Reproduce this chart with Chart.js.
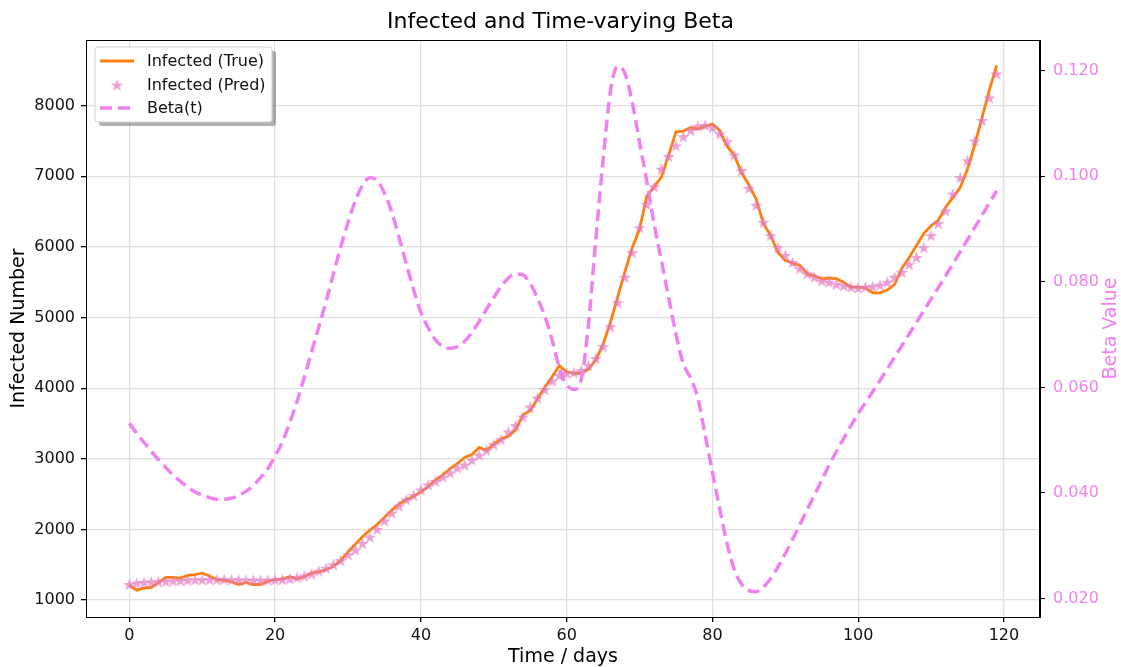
<!DOCTYPE html>
<html>
<head>
<meta charset="utf-8">
<script src="https://cdn.jsdelivr.net/npm/chart.js@4/dist/chart.umd.min.js"></script>
<style>
  html, body { margin: 0; padding: 0; background: #fff; }
  #wrap { width: 1121px; height: 667px; }
</style>
</head>
<body>
<div id="wrap"><canvas id="betaChart" width="1121" height="667"></canvas></div>
<script>
  'use strict';

  // x categories: day index 0..119
  const days = Array.from({ length: 120 }, (_, i) => i);

  const infectedTrue = [
    1210, 1140, 1170, 1180, 1250, 1320, 1320, 1310, 1350, 1360,
    1380, 1340, 1290, 1280, 1260, 1220, 1250, 1220, 1220, 1270,
    1290, 1300, 1330, 1300, 1330, 1380, 1400, 1430, 1480, 1560,
    1680, 1790, 1900, 1990, 2070, 2170, 2270, 2360, 2420, 2470,
    2530, 2610, 2700, 2770, 2860, 2930, 3020, 3060, 3160, 3120,
    3210, 3280, 3320, 3410, 3620, 3680, 3850, 4010, 4160, 4320,
    4230, 4210, 4210, 4270, 4400, 4620, 4930, 5290, 5650, 5990,
    6250, 6720, 6850, 6990, 7300, 7630, 7640, 7690, 7670, 7710,
    7740, 7650, 7430, 7300, 7050, 6880, 6680, 6330, 6160, 5920,
    5810, 5770, 5740, 5620, 5590, 5550, 5560, 5550, 5500, 5430,
    5430, 5420, 5350, 5350, 5390, 5470, 5700, 5850, 6020, 6190,
    6300, 6380, 6560, 6700, 6840, 7100, 7450, 7830, 8220, 8570
  ];

  const infectedPred = [
    1220, 1240, 1250, 1255, 1260, 1265, 1270, 1275, 1280, 1285,
    1285, 1290, 1290, 1290, 1285, 1285, 1280, 1280, 1280, 1280,
    1285, 1290, 1300, 1320, 1340, 1370, 1410, 1450, 1500, 1560,
    1640, 1710, 1800, 1890, 2000, 2120, 2230, 2330, 2420, 2480,
    2560, 2630, 2680, 2740, 2800, 2870, 2910, 2980, 3050, 3120,
    3200, 3270, 3380, 3470, 3590, 3730, 3860, 3980, 4100, 4180,
    4210, 4220, 4250, 4320, 4420, 4590, 4870, 5210, 5570, 5920,
    6270, 6600, 6850, 7100, 7280, 7430, 7560, 7650, 7710, 7720,
    7690, 7600, 7490, 7300, 7080, 6830, 6590, 6350, 6160, 5990,
    5880, 5780, 5690, 5620, 5570, 5520, 5500, 5470, 5450, 5430,
    5420, 5430, 5440, 5460, 5500, 5570, 5640, 5750, 5850, 5990,
    6160, 6330, 6510, 6750, 6980, 7220, 7500, 7790, 8110, 8450
  ];

  const betaValues = [
    0.0532, 0.0513, 0.0496, 0.0479, 0.0463, 0.0448, 0.0434, 0.0422, 0.0411, 0.0402,
    0.0396, 0.0391, 0.0388, 0.0388, 0.0390, 0.0395, 0.0403, 0.0414, 0.0429, 0.0446,
    0.0470, 0.0497, 0.0533, 0.0573, 0.0619, 0.0667, 0.0715, 0.0763, 0.0815, 0.0866,
    0.0912, 0.0953, 0.0983, 0.0997, 0.0992, 0.0968, 0.0932, 0.0884, 0.0834, 0.0785,
    0.0742, 0.0713, 0.0690, 0.0678, 0.0674, 0.0677, 0.0687, 0.0704, 0.0725, 0.0748,
    0.0770, 0.0791, 0.0807, 0.0815, 0.0813, 0.0797, 0.0769, 0.0735, 0.0690, 0.0637,
    0.0605, 0.0596, 0.0615, 0.0720, 0.0880, 0.1030, 0.1160, 0.1208, 0.1195, 0.1140,
    0.1065, 0.0990, 0.0910, 0.0840, 0.0770, 0.0701, 0.0645, 0.0618, 0.0580, 0.0510,
    0.0440, 0.0370, 0.0305, 0.0255, 0.0227, 0.0215, 0.0213, 0.0222, 0.0238, 0.0260,
    0.0285, 0.0312, 0.0340, 0.0368, 0.0396, 0.0424, 0.0452, 0.0478, 0.0503, 0.0527,
    0.0550, 0.0571, 0.0592, 0.0613, 0.0635, 0.0657, 0.0679, 0.0701, 0.0723, 0.0745,
    0.0767, 0.0789, 0.0811, 0.0834, 0.0857, 0.0880, 0.0903, 0.0926, 0.0949, 0.0972
  ];

  // tick labels
  const xTicks = [0, 20, 40, 60, 80, 100, 120];
  const yLeftTicks = [1000, 2000, 3000, 4000, 5000, 6000, 7000, 8000];
  const yRightTicks = [0.02, 0.04, 0.06, 0.08, 0.10, 0.12];

  const seriesNames = ['Infected (True)', 'Infected (Pred)', 'Beta(t)'];
  const chartTitle = 'Infected and Time-varying Beta';
  const xTitle = 'Time / days';
  const yLeftTitle = 'Infected Number';
  const yRightTitle = 'Beta Value';

  const ORANGE = '#ff7f0e';
  const VIOLET = '#ee82ee';
  const STAR = 'rgba(227,119,194,0.7)';
  const GRID = '#e0e0e0';
  const FONT = "'DejaVu Sans', sans-serif";

  function makeStar(size, color) {
    const c = document.createElement('canvas');
    c.width = size;
    c.height = size;
    const g = c.getContext('2d');
    const cx = size / 2, cy = size / 2 + 0.5, R = size / 2, r = R * 0.4;
    g.beginPath();
    for (let i = 0; i < 10; i++) {
      const a = -Math.PI / 2 + i * Math.PI / 5;
      const rad = i % 2 ? r : R;
      g.lineTo(cx + rad * Math.cos(a), cy + rad * Math.sin(a));
    }
    g.closePath();
    g.fillStyle = color;
    g.fill();
    return c;
  }
  const starImg = makeStar(13, STAR);

  const toPoints = vals => days.map((d, i) => ({ x: d, y: vals[i] }));
  const fixTicks = list => scale => { scale.ticks = list.map(v => ({ value: v })); };

  function roundRect(ctx, x, y, w, h, r) {
    ctx.beginPath();
    ctx.moveTo(x + r, y);
    ctx.lineTo(x + w - r, y);
    ctx.arcTo(x + w, y, x + w, y + r, r);
    ctx.lineTo(x + w, y + h - r);
    ctx.arcTo(x + w, y + h, x + w - r, y + h, r);
    ctx.lineTo(x + r, y + h);
    ctx.arcTo(x, y + h, x, y + h - r, r);
    ctx.lineTo(x, y + r);
    ctx.arcTo(x, y, x + r, y, r);
    ctx.closePath();
  }

  // white background, frame, right title (reads upward) and legend box
  const decorations = {
    id: 'decorations',
    beforeDraw(chart) {
      const ctx = chart.ctx;
      ctx.save();
      ctx.fillStyle = '#fff';
      ctx.fillRect(0, 0, chart.width, chart.height);
      ctx.restore();
    },
    afterDraw(chart) {
      const ctx = chart.ctx;
      const a = chart.chartArea;
      ctx.save();
      ctx.strokeStyle = '#000';
      ctx.lineWidth = 1;
      ctx.strokeRect(Math.round(a.left) + 0.5, Math.round(a.top) + 0.5,
        Math.round(a.right - a.left) - 1, Math.round(a.bottom - a.top));

      ctx.translate(1111, (a.top + a.bottom) / 2);
      ctx.rotate(-Math.PI / 2);
      ctx.fillStyle = VIOLET;
      ctx.font = '19px ' + FONT;
      ctx.textAlign = 'center';
      ctx.textBaseline = 'middle';
      ctx.fillText(yRightTitle, 0, 0);
      ctx.restore();

      const bx = 95, by = 47, bw = 177, bh = 75;
      ctx.save();
      ctx.fillStyle = 'rgba(0,0,0,0.3)';
      roundRect(ctx, bx + 4, by + 4, bw, bh, 3);
      ctx.fill();
      ctx.fillStyle = '#fff';
      ctx.strokeStyle = '#d0d0d0';
      roundRect(ctx, bx, by, bw, bh, 3);
      ctx.fill();
      ctx.stroke();

      const rows = [by + 14, by + 38, by + 61];
      ctx.lineWidth = 2.8;
      ctx.strokeStyle = ORANGE;
      ctx.beginPath();
      ctx.moveTo(bx + 5, rows[0]);
      ctx.lineTo(bx + 39, rows[0]);
      ctx.stroke();

      ctx.drawImage(starImg, bx + 22 - 6.5, rows[1] - 6.5);

      ctx.lineWidth = 3.5;
      ctx.strokeStyle = VIOLET;
      ctx.setLineDash([12, 6]);
      ctx.beginPath();
      ctx.moveTo(bx + 5, rows[2]);
      ctx.lineTo(bx + 41, rows[2]);
      ctx.stroke();
      ctx.setLineDash([]);

      ctx.fillStyle = '#111';
      ctx.font = '16px ' + FONT;
      ctx.textAlign = 'left';
      ctx.textBaseline = 'middle';
      seriesNames.forEach((name, i) => ctx.fillText(name, bx + 52, rows[i] + 1));
      ctx.restore();
    }
  };

  const ctx = document.getElementById('betaChart').getContext('2d');
  new Chart(ctx, {
    type: 'line',
    data: {
      datasets: [{
        label: seriesNames[0],
        data: toPoints(infectedTrue),
        yAxisID: 'y',
        borderColor: ORANGE,
        borderWidth: 2.8,
        pointRadius: 0,
        tension: 0,
        order: 3
      }, {
        label: seriesNames[1],
        data: toPoints(infectedPred),
        yAxisID: 'y',
        showLine: false,
        pointStyle: starImg,
        pointRadius: 6,
        order: 2
      }, {
        label: seriesNames[2],
        data: toPoints(betaValues),
        yAxisID: 'y1',
        borderColor: VIOLET,
        borderWidth: 3.5,
        borderDash: [12, 6],
        pointRadius: 0,
        cubicInterpolationMode: 'monotone',
        order: 1
      }]
    },
    options: {
      responsive: false,
      animation: false,
      events: [],
      layout: { padding: 0 },
      plugins: {
        legend: { display: false },
        tooltip: { enabled: false },
        title: {
          display: true,
          text: chartTitle,
          color: '#000',
          font: { family: FONT, size: 22, weight: 'normal', lineHeight: 1.2 },
          padding: { top: 9, bottom: 4.6 }
        }
      },
      scales: {
        x: {
          type: 'linear',
          min: -5.95,
          max: 124.95,
          afterBuildTicks: fixTicks(xTicks),
          afterFit: s => { s.height = 50; },
          ticks: {
            color: '#111',
            padding: 4,
            font: { family: FONT, size: 16 },
            callback: v => String(v)
          },
          grid: { color: GRID, tickColor: '#000', tickLength: 5, lineWidth: 1.3 },
          border: { color: '#000', width: 1 },
          title: {
            display: true,
            text: xTitle,
            color: '#000',
            font: { family: FONT, size: 19, lineHeight: 1 },
            padding: { top: 0, bottom: 0 }
          }
        },
        y: {
          position: 'left',
          min: 760,
          max: 8930,
          afterBuildTicks: fixTicks(yLeftTicks),
          afterFit: s => { s.width = 86; },
          ticks: {
            color: '#111',
            padding: 6,
            font: { family: FONT, size: 16 },
            callback: v => String(v)
          },
          grid: { color: GRID, tickColor: '#000', tickLength: 5, lineWidth: 1.3 },
          border: { color: '#000', width: 1 },
          title: {
            display: true,
            text: yLeftTitle,
            color: '#000',
            font: { family: FONT, size: 19, lineHeight: 1 },
            padding: { top: 10, bottom: 0 }
          }
        },
        y1: {
          position: 'right',
          min: 0.0165,
          max: 0.1258,
          afterBuildTicks: fixTicks(yRightTicks),
          afterFit: s => { s.width = 81; },
          ticks: {
            color: VIOLET,
            padding: 8,
            font: { family: FONT, size: 16 },
            callback: v => v.toFixed(3)
          },
          grid: { drawOnChartArea: false, tickColor: '#000', tickLength: 5 },
          border: { color: '#000', width: 1 }
        }
      }
    },
    plugins: [decorations]
  });
</script>
</body>
</html>
